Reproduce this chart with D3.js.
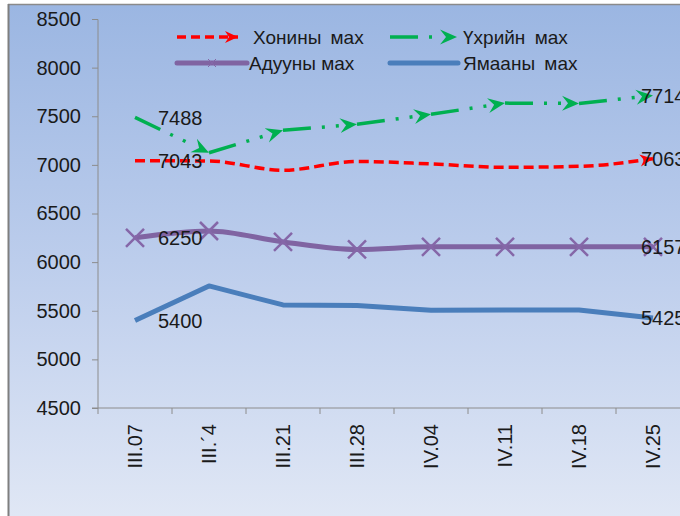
<!DOCTYPE html>
<html>
<head>
<meta charset="utf-8">
<script src="https://cdn.jsdelivr.net/npm/d3@7"></script>
<style>
  body { margin: 0; background: #fff; }
  svg text { font-family: "Liberation Sans", Arial, sans-serif; fill: #1a1a1a; }
</style>
</head>
<body>
<div id="chart"></div>
<script>
// week labels (second one is garbled in the source picture)
var categories = ["III.07", "III.´4", "III.21", "III.28", "IV.04", "IV.11", "IV.18", "IV.25"];
var yTicks = [4500, 5000, 5500, 6000, 6500, 7000, 7500, 8000, 8500];

var khonin = [7043, 7040, 6945, 7035, 7010, 6975, 6985, 7063];   // Хонины мах
var ukhriin = [7488, 7125, 7355, 7418, 7520, 7635, 7632, 7714];  // Үхрийн мах
var aduun = [6250, 6320, 6208, 6130, 6157, 6157, 6157, 6157];    // Адууны мах
var yamaan = [5400, 5755, 5560, 5555, 5505, 5508, 5508, 5425];   // Ямааны мах

var totalWidth = 680, totalHeight = 516;

var svg = d3.select("#chart").append("svg")
    .attr("width", totalWidth)
    .attr("height", totalHeight);

var defs = svg.append("defs");
var grad = defs.append("linearGradient")
    .attr("id", "bg").attr("x1", 0).attr("y1", 0).attr("x2", 0).attr("y2", 1);
grad.append("stop").attr("offset", "0%").attr("stop-color", "#9bb6e2");
grad.append("stop").attr("offset", "50%").attr("stop-color", "#bccdec");
grad.append("stop").attr("offset", "100%").attr("stop-color", "#e0e7f5");

// arrow heads
defs.append("marker")
    .attr("id", "arrowGreen")
    .attr("markerUnits", "userSpaceOnUse")
    .attr("viewBox", "-17 -8 19 16")
    .attr("refX", 0).attr("refY", 0)
    .attr("markerWidth", 19).attr("markerHeight", 16)
    .attr("orient", "auto")
  .append("path")
    .attr("d", "M0,0 L-17,-7.5 L-11,0 L-17,7.5 Z")
    .attr("fill", "#00b050");

defs.append("marker")
    .attr("id", "arrowRed")
    .attr("markerUnits", "userSpaceOnUse")
    .attr("viewBox", "-14 -8 16 16")
    .attr("refX", 0).attr("refY", 0)
    .attr("markerWidth", 16).attr("markerHeight", 16)
    .attr("orient", "auto")
  .append("path")
    .attr("d", "M0,0 L-13,-6 L-9,0 L-13,6 Z")
    .attr("fill", "#ff0000");

// chart panel
svg.append("rect")
    .attr("x", 9).attr("y", 5)
    .attr("width", totalWidth - 9).attr("height", totalHeight - 5)
    .attr("fill", "url(#bg)");
svg.append("line").attr("x1", 8).attr("x2", totalWidth).attr("y1", 4.5).attr("y2", 4.5)
    .attr("stroke", "#8a8a8a").attr("stroke-width", 1.5);
svg.append("line").attr("x1", 8.5).attr("x2", 8.5).attr("y1", 4).attr("y2", totalHeight)
    .attr("stroke", "#7f7f7f").attr("stroke-width", 2);

var x = d3.scaleBand()
    .domain(categories)
    .range([98, 98 + 74 * categories.length]);

var y = d3.scaleLinear()
    .domain([4500, 8500])
    .range([408, 19]);

function cx(i) { return x(categories[i]) + x.bandwidth() / 2; }

// y axis
var yAxis = svg.append("g")
    .attr("transform", "translate(98,0)")
    .call(d3.axisLeft(y).tickValues(yTicks).tickSize(6).tickPadding(11).tickFormat(d3.format("d")));
yAxis.selectAll("text").attr("font-size", 20).attr("fill", "#1a1a1a").attr("font-family", "Liberation Sans, Arial, sans-serif");
yAxis.selectAll("line").attr("stroke", "#8c8c8c");
yAxis.select(".domain").attr("stroke", "#8c8c8c").attr("d", "M-6,19.5H0V408");

// x axis (labels at band centres, ticks at band edges)
var xAxis = svg.append("g")
    .attr("transform", "translate(0,408)")
    .call(d3.axisBottom(x).tickSize(0));
xAxis.select(".domain").attr("stroke", "#8c8c8c").attr("d", "M92,0H" + totalWidth);
xAxis.selectAll(".tick text")
    .attr("font-size", 20)
    .attr("fill", "#1a1a1a")
    .attr("font-family", "Liberation Sans, Arial, sans-serif")
    .attr("text-anchor", "end")
    .attr("transform", "rotate(-90)")
    .attr("x", -16)
    .attr("y", 0)
    .attr("dy", "0.35em");
xAxis.selectAll(".edge")
    .data(categories)
    .enter().append("line")
    .attr("class", "edge")
    .attr("x1", function(d) { return x(d); })
    .attr("x2", function(d) { return x(d); })
    .attr("y1", 0).attr("y2", 6)
    .attr("stroke", "#8c8c8c");

var smooth = d3.line()
    .x(function(d, i) { return cx(i); })
    .y(function(d) { return y(d); })
    .curve(d3.curveMonotoneX);

var straight = d3.line()
    .x(function(d, i) { return cx(i); })
    .y(function(d) { return y(d); });

// Ямааны мах
svg.append("path")
    .attr("d", straight(yamaan))
    .attr("fill", "none")
    .attr("stroke", "#4a7ebb")
    .attr("stroke-width", 5)
    .attr("stroke-linejoin", "round");

// Адууны мах
svg.append("path")
    .attr("d", smooth(aduun))
    .attr("fill", "none")
    .attr("stroke", "#8064a2")
    .attr("stroke-width", 5)
    .attr("stroke-linejoin", "round");

function xMark(g, px, py, r, w) {
  g.append("path")
      .attr("d", "M" + (px - r) + "," + (py - r) + "L" + (px + r) + "," + (py + r) +
                 "M" + (px - r) + "," + (py + r) + "L" + (px + r) + "," + (py - r))
      .attr("stroke", "#8567a8")
      .attr("stroke-width", w)
      .attr("fill", "none");
}
var marks = svg.append("g");
aduun.forEach(function(d, i) { xMark(marks, cx(i), y(d), 9, 2.5); });

// Хонины мах
svg.append("path")
    .attr("d", smooth(khonin))
    .attr("fill", "none")
    .attr("stroke", "#ff0000")
    .attr("stroke-width", 3.5)
    .attr("stroke-dasharray", "10,5")
    .attr("marker-end", "url(#arrowRed)");

// Үхрийн мах: each segment is dash-dot-dot ending in an arrow head
for (var i = 0; i < ukhriin.length - 1; i++) {
  svg.append("path")
      .attr("d", "M" + cx(i) + "," + y(ukhriin[i]) + "L" + cx(i + 1) + "," + y(ukhriin[i + 1]))
      .attr("fill", "none")
      .attr("stroke", "#00b050")
      .attr("stroke-width", 3.5)
      .attr("stroke-dasharray", "28,11,3,11,3,100")
      .attr("marker-end", "url(#arrowGreen)");
}

// data labels at first and last points
var series = [ukhriin, khonin, aduun, yamaan];
var labels = svg.append("g").attr("font-size", 20);
series.forEach(function(s) {
  labels.append("text")
      .attr("x", cx(0) + 23).attr("y", y(s[0]))
      .attr("dy", "0.36em")
      .text(s[0]);
  labels.append("text")
      .attr("x", cx(s.length - 1) - 12).attr("y", y(s[s.length - 1]))
      .attr("dy", "0.36em")
      .text(s[s.length - 1]);
});

// legend
var legend = svg.append("g").attr("font-size", 19).attr("word-spacing", 4);
legend.append("path").attr("d", "M177,37H238")
    .attr("stroke", "#ff0000").attr("stroke-width", 3.5).attr("stroke-dasharray", "9,5")
    .attr("marker-end", "url(#arrowRed)");
legend.append("text").attr("x", 253).attr("y", 37).attr("dy", "0.36em").text("Хонины мах");

legend.append("path").attr("d", "M390,37H457")
    .attr("stroke", "#00b050").attr("stroke-width", 3.5).attr("stroke-dasharray", "28,11,3,100")
    .attr("marker-end", "url(#arrowGreen)");
legend.append("text").attr("x", 463).attr("y", 37).attr("dy", "0.36em").text("Үхрийн мах");

legend.append("path").attr("d", "M177,63H247")
    .attr("stroke", "#8064a2").attr("stroke-width", 5).attr("stroke-linecap", "round");
xMark(legend, 212, 63, 4, 1);
legend.append("text").attr("x", 249).attr("y", 63).attr("dy", "0.36em").attr("word-spacing", 0).text("Адууны мах");

legend.append("path").attr("d", "M390,63H458")
    .attr("stroke", "#4a7ebb").attr("stroke-width", 5).attr("stroke-linecap", "round");
legend.append("text").attr("x", 463).attr("y", 63).attr("dy", "0.36em").text("Ямааны мах");
</script>
</body>
</html>
